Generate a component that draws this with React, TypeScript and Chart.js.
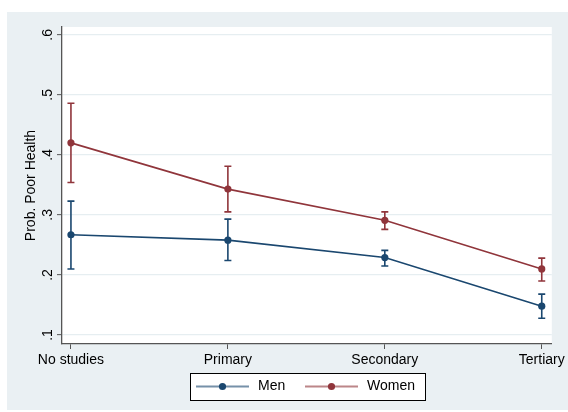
import React, { useEffect, useRef } from "react";
import { Chart, registerables } from "chart.js";

Chart.register(...registerables);

const categories = ["No studies", "Primary", "Secondary", "Tertiary"];
const seriesNames = ["Men", "Women"];
const seriesColors = ["#1a476f", "#90353b"];
const menProb = [0.267, 0.258, 0.229, 0.148];
const menLow = [0.21, 0.224, 0.215, 0.128];
const menHigh = [0.323, 0.293, 0.241, 0.168];
const womenProb = [0.42, 0.343, 0.291, 0.21];
const womenLow = [0.354, 0.305, 0.276, 0.19];
const womenHigh = [0.486, 0.381, 0.305, 0.228];
const yTicks = [0.1, 0.2, 0.3, 0.4, 0.5, 0.6];
const yTitle = "Prob. Poor Health";

const FONT = "'Liberation Sans', Arial, sans-serif";

const bgPlugin = {
  id: "bgPlugin",
  beforeDraw(chart: any) {
    const { ctx, chartArea } = chart;
    ctx.save();
    ctx.fillStyle = "#ffffff";
    ctx.fillRect(0, 0, chart.width, chart.height);
    ctx.fillStyle = "#eaf0f3";
    ctx.fillRect(7, 12, chart.width - 7, 398);
    ctx.fillStyle = "#ffffff";
    ctx.fillRect(chartArea.left, chartArea.top, chartArea.right - chartArea.left, chartArea.bottom - chartArea.top);
    ctx.restore();
  },
};

const errorBarPlugin = {
  id: "errorBars",
  beforeDatasetsDraw(chart: any) {
    const { ctx } = chart;
    const xs = chart.scales.x;
    const ys = chart.scales.y;
    const lows = [menLow, womenLow];
    const highs = [menHigh, womenHigh];
    ctx.save();
    for (let s = 0; s < 2; s++) {
      ctx.strokeStyle = seriesColors[s];
      ctx.lineWidth = 1.6;
      for (let i = 0; i < categories.length; i++) {
        const x = xs.getPixelForValue(i);
        const y1 = ys.getPixelForValue(lows[s][i]);
        const y2 = ys.getPixelForValue(highs[s][i]);
        ctx.beginPath();
        ctx.moveTo(x, y1);
        ctx.lineTo(x, y2);
        ctx.moveTo(x - 3.5, y1);
        ctx.lineTo(x + 3.5, y1);
        ctx.moveTo(x - 3.5, y2);
        ctx.lineTo(x + 3.5, y2);
        ctx.stroke();
      }
    }
    ctx.restore();
  },
};

const legendPlugin = {
  id: "customLegend",
  afterDraw(chart: any) {
    const { ctx } = chart;
    ctx.save();
    const bx = 190, by = 373, bw = 235, bh = 27;
    ctx.fillStyle = "#ffffff";
    ctx.fillRect(bx, by, bw, bh);
    ctx.strokeStyle = "#000000";
    ctx.lineWidth = 1;
    ctx.strokeRect(bx + 0.5, by + 0.5, bw, bh);
    const cy = by + bh / 2;
    const items = [
      { x0: 196, x1: 249, tx: 258 },
      { x0: 305, x1: 358, tx: 367 },
    ];
    items.forEach((it, i) => {
      ctx.globalAlpha = 0.6;
      ctx.strokeStyle = seriesColors[i];
      ctx.lineWidth = 1.8;
      ctx.beginPath();
      ctx.moveTo(it.x0, cy);
      ctx.lineTo(it.x1, cy);
      ctx.stroke();
      ctx.globalAlpha = 1;
      ctx.fillStyle = seriesColors[i];
      ctx.beginPath();
      ctx.arc((it.x0 + it.x1) / 2, cy, 3.6, 0, Math.PI * 2);
      ctx.fill();
      ctx.fillStyle = "#000000";
      ctx.font = `14px ${FONT}`;
      ctx.textAlign = "left";
      ctx.textBaseline = "middle";
      ctx.fillText(seriesNames[i], it.tx, cy);
    });
    ctx.restore();
  },
};

export default function App() {
  const ref = useRef<HTMLCanvasElement | null>(null);
  useEffect(() => {
    if (!ref.current) return;
    const mk = (vals: number[]) => vals.map((v, i) => ({ x: i, y: v }));
    const chart = new Chart(ref.current, {
      type: "line",
      data: {
        datasets: [
          {
            label: seriesNames[0],
            data: mk(menProb),
            borderColor: seriesColors[0],
            backgroundColor: seriesColors[0],
            borderWidth: 1.6,
            pointRadius: 3.6,
            pointBorderWidth: 0,
            tension: 0,
          },
          {
            label: seriesNames[1],
            data: mk(womenProb),
            borderColor: seriesColors[1],
            backgroundColor: seriesColors[1],
            borderWidth: 1.6,
            pointRadius: 3.6,
            pointBorderWidth: 0,
            tension: 0,
          },
        ],
      },
      options: {
        responsive: false,
        animation: false,
        layout: { padding: { left: 0, top: 27, right: 15, bottom: 0 } },
        plugins: { legend: { display: false }, tooltip: { enabled: false } },
        scales: {
          x: {
            type: "linear",
            min: -0.057,
            max: 3.064,
            afterBuildTicks: (s: any) => {
              s.ticks = categories.map((_, i) => ({ value: i }));
            },
            afterFit: (s: any) => {
              s.height = 68;
            },
            ticks: {
              callback: (v: any) => categories[Math.round(Number(v))] ?? "",
              color: "#000",
              font: { family: FONT, size: 14 },
              padding: 3,
              maxRotation: 0,
              minRotation: 0,
              autoSkip: false,
            },
            grid: {
              drawOnChartArea: false,
              drawTicks: true,
              tickLength: 5,
              tickColor: "#555",
              tickWidth: 1,
            },
            border: { display: true, color: "#555", width: 1.3 },
          },
          y: {
            type: "linear",
            min: 0.085,
            max: 0.613,
            afterBuildTicks: (s: any) => {
              s.ticks = yTicks.map((v) => ({ value: v }));
            },
            afterFit: (s: any) => {
              s.width = 62;
            },
            ticks: {
              callback: (v: any) => Number(v).toFixed(1).replace(/^0/, ""),
              color: "#000",
              font: { family: FONT, size: 14 },
              minRotation: 90,
              maxRotation: 90,
              crossAlign: "center",
              padding: 3,
            },
            grid: {
              color: "#e6eef1",
              lineWidth: 1.3,
              drawTicks: true,
              tickLength: 5,
              tickColor: "#555",
              tickWidth: 1,
            },
            border: { display: true, color: "#555", width: 1.3 },
            title: {
              display: true,
              text: yTitle,
              color: "#000",
              font: { family: FONT, size: 14 },
              padding: { top: 23, bottom: 0 },
            },
          },
        },
      },
      plugins: [bgPlugin, errorBarPlugin, legendPlugin],
    });
    return () => chart.destroy();
  }, []);
  return (
    <canvas
      ref={ref}
      width={568}
      height={412}
      style={{ position: "absolute", left: 0, top: 0, display: "block" }}
    />
  );
}
